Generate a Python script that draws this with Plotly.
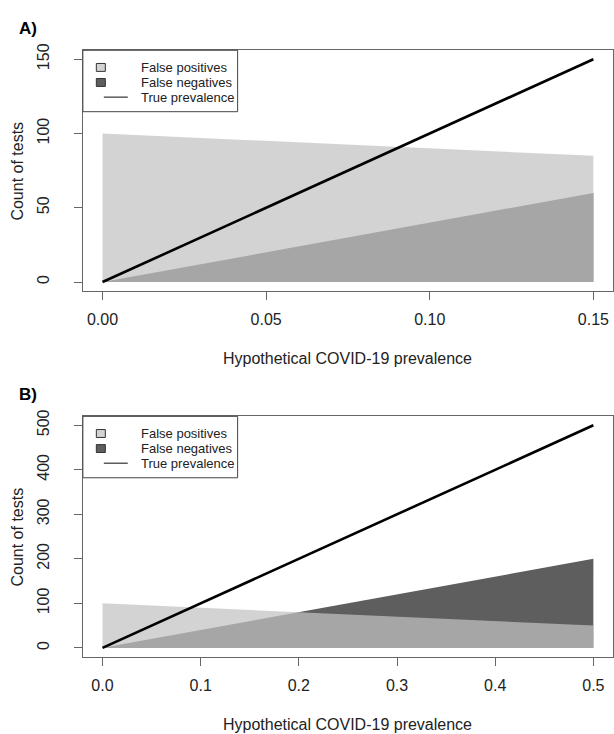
import plotly.graph_objects as go

# ---- data ----
prev_a = [0.0, 0.15]
fp_a = [100, 85]
fn_a = [0, 60]
true_a = [0, 150]

prev_b = [0.0, 0.5]
fp_b = [100, 50]
fn_b = [0, 200]
true_b = [0, 500]

xticks_a = [0.0, 0.05, 0.10, 0.15]
xtext_a = ["0.00", "0.05", "0.10", "0.15"]
yticks_a = [0, 50, 100, 150]
xticks_b = [0.0, 0.1, 0.2, 0.3, 0.4, 0.5]
xtext_b = ["0.0", "0.1", "0.2", "0.3", "0.4", "0.5"]
yticks_b = [0, 100, 200, 300, 400, 500]

legend_labels = ["False positives", "False negatives", "True prevalence"]
panel_labels = ["A)", "B)"]
x_title = "Hypothetical COVID-19 prevalence"
y_title = "Count of tests"

# ---- style ----
W, H = 614, 734
FONT = "Liberation Sans, Arial, sans-serif"
FN_COL = "rgb(94,94,94)"
FP_COL = "rgba(194,194,194,0.72)"
FP_LEG = "rgb(211,211,211)"
TXT = "#222222"
FRAME = "#666666"

def px(x):
    return x / W

def py(y):
    return 1 - y / H

fig = go.Figure()

panels = [
    dict(prev=prev_a, fp=fp_a, fn=fn_a, tr=true_a, xt=xticks_a, xtt=xtext_a, yt=yticks_a,
         top=43.7, bottom=286.7, xa="x", ya="y", xname="xaxis", yname="yaxis"),
    dict(prev=prev_b, fp=fp_b, fn=fn_b, tr=true_b, xt=xticks_b, xtt=xtext_b, yt=yticks_b,
         top=413.3, bottom=656.0, xa="x2", ya="y2", xname="xaxis2", yname="yaxis2"),
]

left, right = 83.0, 614.0
annotations = []
shapes = []

def ann(text, x, y, size, xanchor="center", angle=0, color=TXT):
    return dict(text=text, x=px(x), y=py(y), xref="paper", yref="paper", showarrow=False,
                xanchor=xanchor, yanchor="middle", textangle=angle,
                font=dict(family=FONT, size=size, color=color))

for i, p in enumerate(panels):
    fig.add_trace(go.Scatter(x=p["prev"], y=p["fn"], mode="lines", fill="tozeroy",
                             fillcolor=FN_COL, line=dict(width=0), xaxis=p["xa"], yaxis=p["ya"],
                             showlegend=False, hoverinfo="skip"))
    fig.add_trace(go.Scatter(x=p["prev"], y=p["fp"], mode="lines", fill="tozeroy",
                             fillcolor=FP_COL, line=dict(width=0), xaxis=p["xa"], yaxis=p["ya"],
                             showlegend=False, hoverinfo="skip"))
    fig.add_trace(go.Scatter(x=p["prev"], y=p["tr"], mode="lines",
                             line=dict(color="black", width=2.6), xaxis=p["xa"], yaxis=p["ya"],
                             showlegend=False, hoverinfo="skip"))

    xmin, xmax = min(p["xt"]), max(p["xt"])
    ymin, ymax = min(p["yt"]), max(p["yt"])
    dx = (xmax - xmin) * 0.04
    dy = (ymax - ymin) * 0.04
    anchor_x = "y" if i == 0 else "y2"
    anchor_y = "x" if i == 0 else "x2"
    fig.layout[p["xname"]] = dict(
        domain=[px(left), px(right)], range=[xmin - dx, xmax + dx], anchor=anchor_x,
        tickvals=p["xt"], ticktext=p["xtt"], ticks="outside", ticklen=8, tickcolor=FRAME,
        showline=True, mirror=True, linecolor=FRAME, linewidth=1,
        showgrid=False, zeroline=False, tickfont=dict(family=FONT, size=16, color=TXT),
        ticklabelstandoff=6,
    )
    fig.layout[p["yname"]] = dict(
        domain=[py(p["bottom"]), py(p["top"])], range=[ymin - dy, ymax + dy], anchor=anchor_y,
        tickvals=p["yt"], ticks="outside", ticklen=8, tickcolor=FRAME, tickangle=-90,
        showline=True, mirror=True, linecolor=FRAME, linewidth=1,
        showgrid=False, zeroline=False, tickfont=dict(family=FONT, size=16, color=TXT),
        ticklabelstandoff=18,
    )

    top = p["top"]
    annotations.append(ann("<b>" + panel_labels[i] + "</b>", 28, top - 22, 17, color="black"))
    annotations.append(ann(x_title, (left + right) / 2, p["bottom"] + 68.5, 16))
    annotations.append(ann(y_title, 18, (top + p["bottom"]) / 2, 16, angle=-90))
    # legend box
    shapes.append(dict(type="rect", xref="paper", yref="paper",
                       x0=px(83), x1=px(238), y0=py(top), y1=py(top + 62),
                       line=dict(color="#444444", width=1), fillcolor="white"))
    offs = [17.3, 32.5, 47.3]
    cols = [FP_LEG, FN_COL]
    for k in range(2):
        shapes.append(dict(type="rect", xref="paper", yref="paper",
                           x0=px(96.5), x1=px(105.5), y0=py(top + offs[k] - 4), y1=py(top + offs[k] + 4),
                           line=dict(color="#333333", width=1), fillcolor=cols[k]))
    shapes.append(dict(type="line", xref="paper", yref="paper",
                       x0=px(104), x1=px(128), y0=py(top + offs[2]), y1=py(top + offs[2]),
                       line=dict(color="#333333", width=1.2)))
    for k in range(3):
        annotations.append(ann(legend_labels[k], 139.3, top + offs[k], 13, xanchor="left"))

fig.update_layout(
    width=W, height=H, autosize=False,
    margin=dict(l=0, r=0, t=0, b=0),
    paper_bgcolor="white", plot_bgcolor="white",
    annotations=annotations, shapes=shapes, showlegend=False,
)

fig.write_html("out.html", config={"displayModeBar": False},
               post_script="document.body.style.margin='0';document.body.style.overflow='hidden';")
